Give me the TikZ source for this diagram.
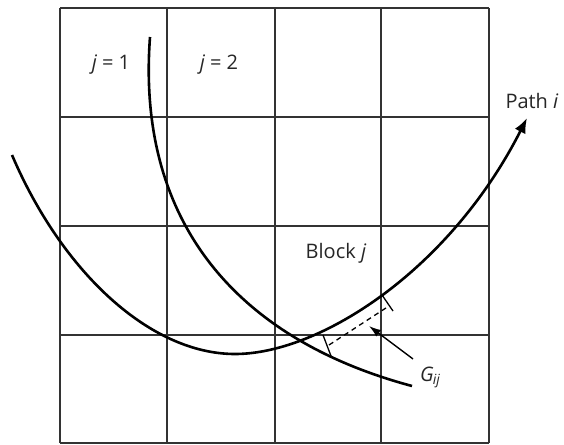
\documentclass[tikz,border=0pt]{standalone}
\usepackage{fontspec}
\setmainfont{Open Sans}
\usetikzlibrary{arrows.meta}
\tikzset{
  gridline/.style={line width=1.5pt, draw=black!80},
  curve/.style={line width=2.6pt, draw=black},
  lbl/.style={font=\fontsize{20}{24}\selectfont, text=black!85, inner sep=0pt},
  tick/.style={line width=1.3pt},
  gap/.style={line width=1.3pt, dash pattern=on 5pt off 4pt},
}
\begin{document}
\begin{tikzpicture}[x=1pt,y=-1pt]
\useasboundingbox (0,0) rectangle (564,444);
% grid
\foreach \x in {60,167,275,381,489} \draw[gridline] (\x,8) -- (\x,443);
\foreach \y in {8,117,226,335,443} \draw[gridline] (60,\y) -- (489,\y);
% labels
\node[lbl] (j1) at (111,65) {\textit{j}\hspace{5pt}=\hspace{5pt}1};
\node[lbl] (j2) at (219,65) {\textit{j}\hspace{5pt}=\hspace{5pt}2};
\node[lbl] (path) at (532,101) {Path \textit{i}};
\node[lbl] (block) at (336,253) {Block \textit{j}};
\node[lbl, anchor=base west] (g) at (420,381) {\textit{G}\kern-1pt\textsubscript{\textit{ij}}};
% path i
\draw[curve, -{Latex[length=15pt,width=12pt]}] (12,155) .. controls (62,272) and (150,354) .. (235,354) .. controls (320,354) and (450,270) .. (527,118);
% path j (steep)
\draw[curve] (150,37) .. controls (136,225) and (240,340) .. (412,386);
% gap marks
\coordinate (t1a) at (323,335);
\coordinate (t1b) at (331,356);
\coordinate (t2a) at (382,295);
\coordinate (t2b) at (393,311);
\draw[tick] (t1a) -- (t1b);
\draw[tick] (t2a) -- (t2b);
\coordinate (d1) at (329,345);
\coordinate (d2) at (389,306);
\draw[gap] (d1) -- (d2);
% G arrow
\coordinate (ga) at (413,359);
\coordinate (gb) at (369,326);
\draw[line width=1.4pt, -{Latex[length=12pt,width=8pt]}] (ga) -- (gb);
\end{tikzpicture}
\end{document}
